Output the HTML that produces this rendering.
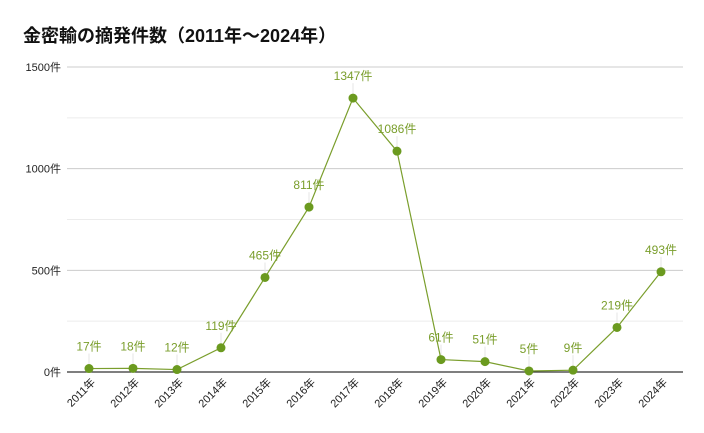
<!DOCTYPE html>
<html><head><meta charset="utf-8"><style>
body{margin:0;background:#fff;width:704px;height:433px;overflow:hidden}
svg{display:block;font-family:"Liberation Sans","Noto Sans CJK JP",sans-serif}
</style></head><body>
<svg id="c" width="704" height="433">
<text x="23" y="42" font-size="18" font-weight="bold" fill="#111">金密輸の摘発件数（2011年～2024年）</text>
</svg>
<script>
const categories=["2011年","2012年","2013年","2014年","2015年","2016年","2017年","2018年","2019年","2020年","2021年","2022年","2023年","2024年"];
const values=[17,18,12,119,465,811,1347,1086,61,51,5,9,219,493];
const yTicks=[0,500,1000,1500];
const minorTicks=[250,750,1250];
const svg=document.getElementById('c');const NS='http://www.w3.org/2000/svg';
const x0=67,x1=683,yb=372,yt=67,yMax=1500;
const y=v=>yb-(v/yMax)*(yb-yt);
const x=i=>89+i*((661-89)/(categories.length-1));
function mk(t,a,p){const e=document.createElementNS(NS,t);for(const k in a)e.setAttribute(k,a[k]);(p||svg).appendChild(e);return e;}
minorTicks.forEach(v=>{const l=mk('line',{x1:x0,x2:x1,y1:y(v),y2:y(v),stroke:'#ececec'});

});
yTicks.forEach(v=>{const l=mk('line',{x1:x0,x2:x1,y1:y(v),y2:y(v),stroke:v===0?'#333':'#ccc','stroke-width':v===0?1.3:1});


const t=mk('text',{x:61,y:y(v)+4,'font-size':11,'text-anchor':'end',fill:'#222'});t.textContent=v+'件';

});
categories.forEach((c,i)=>{const t=mk('text',{x:x(i)+7,y:yb+11,'font-size':11,'text-anchor':'end',fill:'#222',transform:`rotate(-45 ${x(i)+7} ${yb+11})`});t.textContent=c;

});
const pts=values.map((v,i)=>x(i)+','+y(v)).join(' ');
const pl=mk('polyline',{points:pts,fill:'none',stroke:'#7a9e2c','stroke-width':1.2});


values.forEach((v,i)=>{const ly=y(v)-18;
const ld=mk('line',{x1:x(i),x2:x(i),y1:ly+3,y2:y(v)-4,stroke:'#e6e6e6'});


const p=mk('circle',{cx:x(i),cy:y(v),r:4.5,fill:'#6b9a1f'});


const t=mk('text',{x:x(i),y:ly,'font-size':12,'text-anchor':'middle',fill:'#7a9e2c'});t.textContent=v+'件';

});
</script>
</body></html>
